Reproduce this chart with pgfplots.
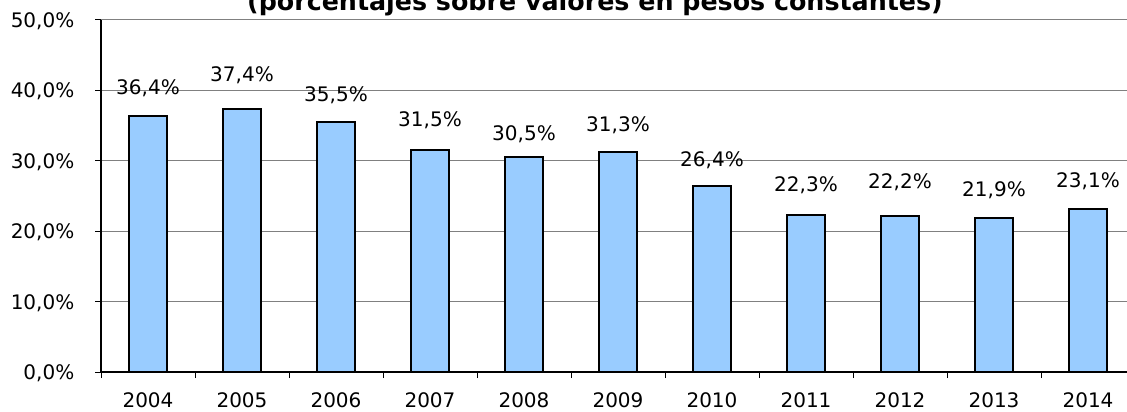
\documentclass[border=0pt]{standalone}
\usepackage{fontspec}
\setmainfont{DejaVu Sans}
\usepackage{pgfplots}
\pgfplotsset{compat=1.18}
\definecolor{barblue}{HTML}{99CCFF}
\begin{document}
\begin{tikzpicture}[x=0.75pt,y=0.75pt]
\clip (0,0) rectangle (1127,411);
\begin{axis}[
  at={(75.75pt,29.25pt)}, anchor=south west,
  scale only axis, width=775.5pt, height=264pt,
  xmin=-0.5, xmax=10.5, ymin=0, ymax=50,
  axis x line=bottom, axis y line=left,
  axis line style={-, black, line width=1pt},
  ybar, bar width=28.5pt,
  ytick={0,10,20,30,40,50},
  yticklabels={{0,0\%},{10,0\%},{20,0\%},{30,0\%},{40,0\%},{50,0\%}},
  yticklabel style={xshift=-12pt, yshift=-1pt},
  xtick={-0.5,0.5,1.5,2.5,3.5,4.5,5.5,6.5,7.5,8.5,9.5,10.5},
  xticklabels={},
  extra x ticks={0,1,2,3,4,5,6,7,8,9,10},
  extra x tick labels={2004,2005,2006,2007,2008,2009,2010,2011,2012,2013,2014},
  extra x tick style={major tick length=0pt},
  xticklabel style={yshift=-12pt},
  tick align=outside, major tick length=4.5pt,
  tick style={black, line width=0.75pt},
  ymajorgrids, grid style={draw=gray, line width=0.75pt},
  ticklabel style={font=\fontsize{15}{18}\selectfont},
  visualization depends on={value \thisrow{off} \as \off},
  nodes near coords={\pgfmathprintnumber[use comma,fixed,fixed zerofill,precision=1,assume math mode=true]{\pgfplotspointmeta}\%},
  every node near coord/.append style={font=\fontsize{15}{18}\selectfont, anchor=base, yshift=0.75*\off pt, inner sep=0pt, black},
]
\addplot[fill=barblue, draw=black, line width=1.5pt] table[x=x, y=y] {
x y off
0 36.4 21
1 37.4 27
2 35.5 21
3 31.5 24
4 30.5 17
5 31.3 20
6 26.4 20
7 22.3 24
8 22.2 27
9 21.9 21
10 23.1 22
};
\end{axis}
\node[anchor=base, font=\bfseries\fontsize{19}{22}\selectfont] at (595,400) {(porcentajes sobre valores en pesos constantes)};
\end{tikzpicture}
\end{document}
